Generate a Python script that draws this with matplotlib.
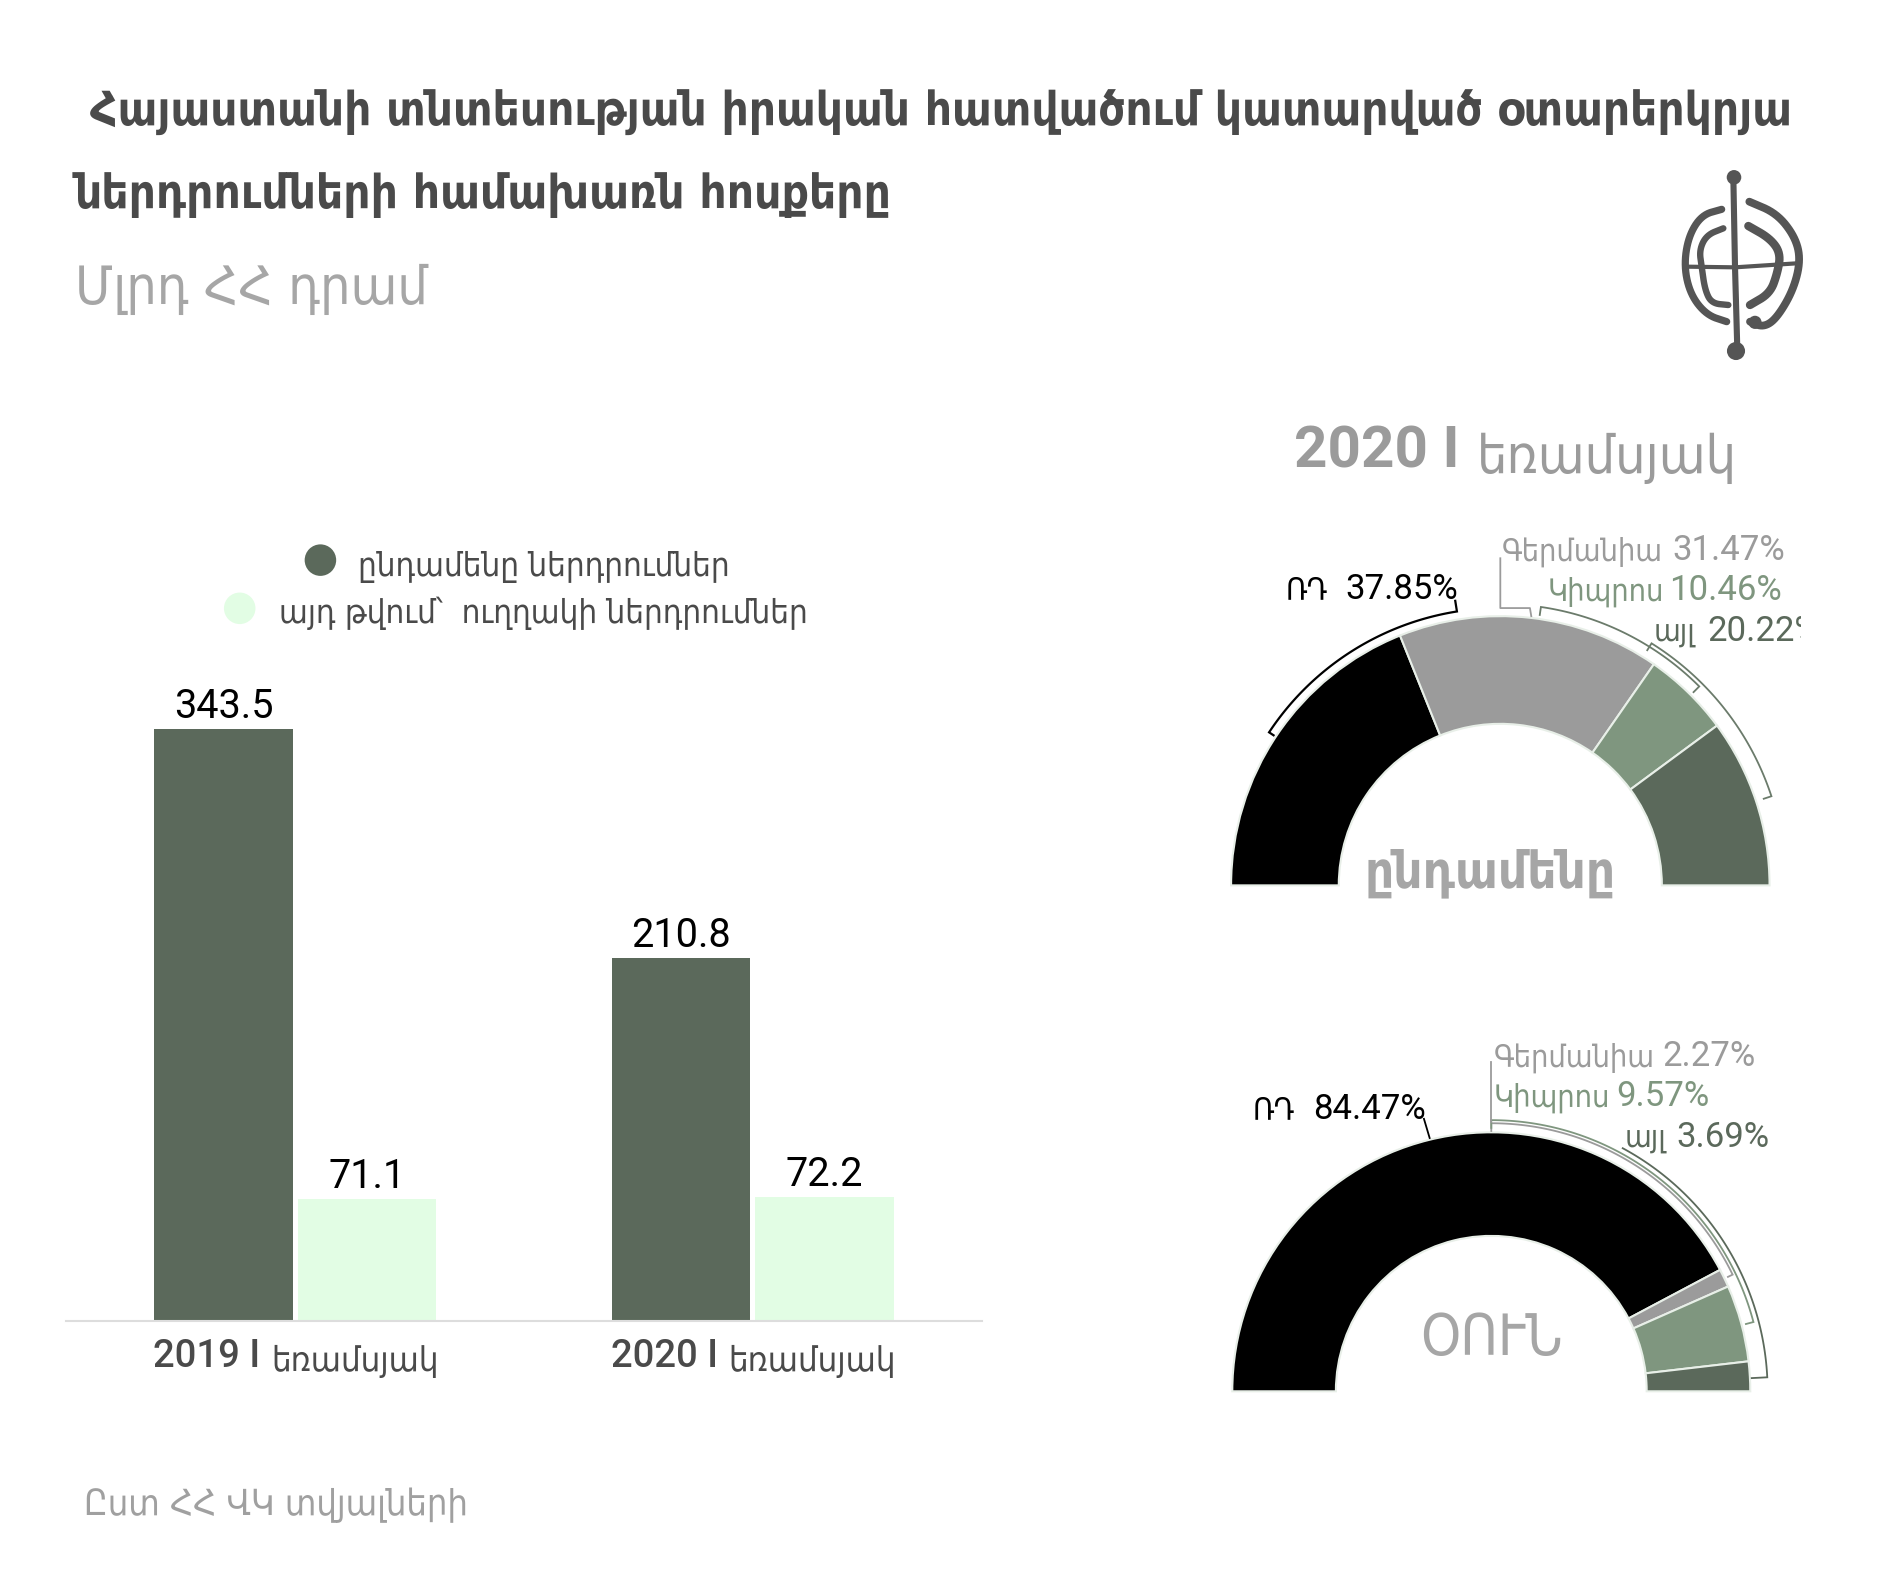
import numpy as np
import matplotlib
matplotlib.use('Agg')
import matplotlib.pyplot as plt

W, H = 1569, 1310  # layout is measured in these units

# Bars
periods = ['2019', '2020']
total_inv = [343.5, 210.8]
direct_inv = [71.1, 72.2]

# Half donuts
countries = ['ՌԴ', 'Գերմանիա', 'Կիպրոս', 'այլ']
share_total = [37.85, 31.47, 10.46, 20.22]
share_fdi = [84.47, 2.27, 9.57, 3.69]

dark = '#5b695b'
light = '#e2fde4'
sage = '#7f967f'
grey = '#9b9b9b'
text_c = '#4a4a4a'
pal = ['black', grey, sage, dark]

fig = plt.figure(figsize=(18.9, 15.78), dpi=100)

# overlay for text and legend keys
ov = fig.add_axes([0, 0, 1, 1])
ov.set_xlim(0, W)
ov.set_ylim(H, 0)
ov.axis('off')


def arm(x, y, s, size, color=text_c, ha='left', weight='normal'):
    ov.text(x, y + 2, s, fontsize=size, color=color, ha=ha, va='center', weight=weight,
            family='DejaVu Sans', stretch='condensed')


arm(75, 92, 'Հայաստանի տնտեսության իրական հատվածում կատարված օտարերկրյա', 33.9, weight='bold')
arm(62, 160, 'ներդրումների համախառն հոսքերը', 34, weight='bold')
arm(62, 238, 'Մլրդ ՀՀ դրամ', 38.5, color='#a6a6a6')
ov.text(1074, 375, '2020 I', fontsize=42, weight='bold', color=grey, family='Roboto', va='center')
arm(1226, 378, 'եռամսյակ', 38.5, color=grey)

ov.scatter([266, 199], [465, 505], s=[515, 515], color=[dark, light], linewidths=0)
arm(297, 468, 'ընդամենը ներդրումներ', 23.7)
arm(232, 507, 'այդ թվում՝  ուղղակի ներդրումներ', 23.7)
arm(70, 1248, 'Ըստ ՀՀ ՎԿ տվյալների', 25.9, color='#a0a0a0')

# grouped bars, group centres 380 units apart
bar_ax = fig.add_axes([55 / W, 1 - 1097 / H, 760 / W, 515.5 / H])
x = np.arange(len(periods))
w = 115 / 380
off = 119 / 380 / 2
b1 = bar_ax.bar(x - off, total_inv, w, color=dark)
b2 = bar_ax.bar(x + off, direct_inv, w, color=light)
bar_ax.set_xlim(-0.5, 1.5)
bar_ax.set_ylim(0, 360)
for b in (b1, b2):
    bar_ax.bar_label(b, padding=2, fontsize=28.5, family='Roboto', color='black')
for s in ['top', 'right', 'left']:
    bar_ax.spines[s].set_visible(False)
bar_ax.spines['bottom'].set_color('#dddddd')
bar_ax.spines['bottom'].set_linewidth(1.5)
bar_ax.set_yticks([])
bar_ax.set_xticks([])
bar_ax.patch.set_alpha(0)

for xc, p in zip([127, 507], periods):
    ov.text(xc, 1126, f'{p} I', fontsize=27.5, color=text_c, family='Roboto', weight='medium', va='center')
    arm(xc + 98, 1128, 'եռամսյակ', 24.8)


def half_donut(cx, cy, R, right_edge, shares):
    left, top, bottom = -1.1, 1.5, -0.03
    right = (right_edge - cx) / R
    ax = fig.add_axes([(cx + left * R) / W, 1 - (cy - bottom * R) / H,
                       (right - left) * R / W, (top - bottom) * R / H])
    ax.pie(np.array(shares) / 200, normalize=False, colors=pal, startangle=180, counterclock=False,
           wedgeprops=dict(width=0.4, edgecolor='#e8efe8', linewidth=1.5))
    ax.set_xlim(left, right)
    ax.set_ylim(bottom, top)
    ax.set_aspect('auto')
    ax.patch.set_alpha(0)
    ax.axis('off')
    return ax


def bracket(ax, a0, a1, r, color, t0=-0.03, t1=-0.03, lw=1.3):
    # angles run clockwise from the left end of the half ring
    th = np.radians(180 - np.linspace(a0, a1, 80))
    rr = np.r_[r + t0, np.full(80, r), r + t1]
    th = np.r_[th[0], th, th[-1]]
    ax.plot(rr * np.cos(th), rr * np.sin(th), color=color, lw=lw, solid_joinstyle='miter', clip_on=False)


def label(ax, word_x, num_x, y, word, value, color):
    # word and number are two fonts at two sizes, clipped at the ring's axes
    ax.text(word_x / W, 1 - (y + 2) / H, word, transform=fig.transFigure, fontsize=22, color=color,
            va='center', family='DejaVu Sans', stretch='condensed', clip_on=True)
    ax.text(num_x / W, 1 - (y + 1) / H, f'{value:.2f}%', transform=fig.transFigure, fontsize=25, color=color,
            va='center', family='Roboto', clip_on=True)


# top ring
ax1 = half_donut(1245.5, 735, 223.5, 1495, share_total)
bracket(ax1, 33.5, 81, 1.03, 'black', t0=-0.02, t1=0.04, lw=1.6)
ax1.plot([0.115, 0.11, 0, 0], [1.0, 1.03, 1.03, 1.215], color=grey, lw=1.3)
bracket(ax1, 98.3, 135, 1.045, '#6b7b6b')
bracket(ax1, 122, 161.8, 1.06, '#6b7b6b')
word_x = [1067, 1247, 1285, 1373]
num_x = [1117, 1388, 1386, 1417]
ypos = [488, 456, 489, 523]
for i, c in enumerate(countries):
    label(ax1, word_x[i], num_x[i], ypos[i], c, share_total[i], pal[i])
arm(1237, 723, 'ընդամենը', 36.5, color='#a6a6a6', ha='center', weight='bold')

# bottom ring
ax2 = half_donut(1238, 1155, 215, 1541, share_fdi)
ax2.plot([-0.238, -0.26], [0.978, 1.052], color='black', lw=1.3)
bracket(ax2, 90, 154.2, 1.035, grey, t1=-0.02)
bracket(ax2, 90, 165.2, 1.047, sage)
ax2.plot([0, 0], [1.04, 1.27], color=grey, lw=1.3)
bracket(ax2, 118.4, 177.1, 1.067, dark, t0=0.0, t1=-0.06)
word_x = [1040, 1240, 1240, 1349]
num_x = [1090, 1380, 1342, 1392]
ypos = [920, 876, 909, 943]
for i, c in enumerate(countries):
    label(ax2, word_x[i], num_x[i], ypos[i], c, share_fdi[i], pal[i])
arm(1238, 1110, 'ՕՈՒՆ', 41, color='#a6a6a6', ha='center')

# logo, drawn in the crop's own units
logo = fig.add_axes([1660 / 1890, 1 - 380 / 1578, 180 / 1890, 230 / 1578])
logo.set_xlim(0, 540)
logo.set_ylim(690, 0)
logo.axis('off')


def smooth(pts, n=3):
    pts = np.array(pts, float)
    for _ in range(n):
        q = 0.75 * pts[:-1] + 0.25 * pts[1:]
        r = 0.25 * pts[:-1] + 0.75 * pts[1:]
        pts = np.vstack([pts[0], np.column_stack([q, r]).reshape(-1, 2), pts[-1]])
    return pts


strokes = [
    ([(185, 178), (125, 195), (85, 260), (72, 350), (92, 435), (140, 495), (200, 515)], 5.2),
    ([(190, 235), (140, 255), (118, 300), (125, 350), (135, 420), (155, 460), (205, 465)], 4.6),
    ([(268, 155), (350, 190), (405, 260), (422, 330), (400, 420), (350, 505), (310, 532), (270, 515)], 5.6),
    ([(265, 228), (330, 265), (362, 310), (352, 370), (330, 430), (270, 465)], 6.0),
    ([(80, 350), (225, 352), (410, 340)], 3.0),
    ([(220, 80), (225, 350), (232, 600)], 4.4),
]
for pts, lw in strokes:
    p = smooth(pts) if len(pts) > 3 else np.array(pts)
    logo.plot(p[:, 0], p[:, 1], color='#555555', lw=lw, solid_capstyle='round')
logo.scatter([222, 228, 285], [82, 603, 517], s=[110, 170, 90], color='#555555', linewidths=0)

fig.savefig('out.png', dpi=100)
